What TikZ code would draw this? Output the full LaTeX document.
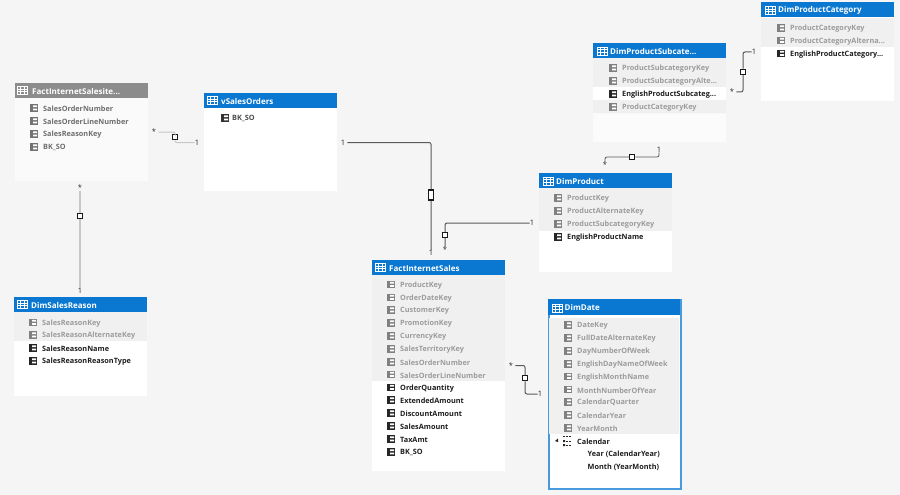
\documentclass[tikz,border=0pt]{standalone}
\usepackage{fontspec}
\setmainfont{Open Sans}
\definecolor{canvas}{HTML}{F5F5F5}
\definecolor{stripe}{HTML}{F0F0F0}
\definecolor{azure}{HTML}{0A78D0}
\definecolor{hidden}{HTML}{9C9C9C}
\definecolor{shown}{HTML}{1E1E1E}
\definecolor{faded}{HTML}{6E6E6E}
\newcommand{\cutoff}{...}
\tikzset{
    tablebody/.style={anchor=north west,fill=white,minimum width=133pt,inner sep=0pt},
    header/.style={anchor=north west,fill=azure,minimum width=133pt,minimum height=15pt,inner sep=0pt},
    title/.style={anchor=west,text=white,font=\bfseries\fontsize{8}{8}\selectfont,inner sep=0pt,xshift=17pt,yshift=-0.7pt},
    keyrow/.style={anchor=west,text=hidden,font=\bfseries\fontsize{7.3}{8}\selectfont,inner sep=0pt,yshift=-0.8pt},
    namerow/.style={keyrow,text=shown},
    fadedrow/.style={keyrow,text=faded},
    mult/.style={font=\fontsize{7.5}{8}\selectfont,text=black!85,inner sep=0pt},
    rel/.style={draw=black!65,line width=1pt,rounded corners=2pt},
    softrel/.style={draw=black!22,line width=1pt,rounded corners=2pt},
    marker/.style={draw=black!90,fill=white,line width=1.5pt,minimum width=5pt,minimum height=5pt,inner sep=0pt},
    tableicon/.pic={
        \draw[white,line width=0.5pt] (-5,-4) rectangle (5,4);
        \draw[white,line width=0.4pt] (-5,-1.5) -- (5,-1.5) (-5,1) -- (5,1) (-1.7,-4) -- (-1.7,4) (1.7,-4) -- (1.7,4);
    },
    colicon/.pic={
        \fill[pic actions] (-4,-3.8) rectangle (4,3.8);
        \fill[white] (-0.8,-2.6) rectangle (3,-0.8) (-0.8,0.6) rectangle (3,2.4);
    },
}
\begin{document}
\begin{tikzpicture}[x=1pt,y=-1pt]
    \useasboundingbox[fill=canvas] (0,0) rectangle (900,495);

    % tables
    \node[tablebody,minimum height=98pt,fill=white!50!canvas] (reason) at (15,83) {};
    \node[header,fill=black!45] (reasonHead) at (15,83) {};
    \node[title] (reasonTitle) at (reasonHead.west) {FactInternetSalesite...};
    \pic at (22,90.5) {tableicon};

    \node[tablebody,minimum height=98pt] (orders) at (204,93) {};
    \node[header] (ordersHead) at (204,93) {};
    \node[title] (ordersTitle) at (ordersHead.west) {vSalesOrders};
    \pic at (212,100.5) {tableicon};

    \node[tablebody,minimum height=99pt] (dimreason) at (14,297) {};
    \fill[stripe] (14,312) rectangle (147,341);
    \node[header] (dimreasonHead) at (14,297) {};
    \node[title] (dimreasonTitle) at (dimreasonHead.west) {DimSalesReason};
    \pic at (22,304.5) {tableicon};

    \node[tablebody,minimum height=211pt] (sales) at (372,260) {};
    \fill[stripe] (372,275) rectangle (505,381);
    \node[header] (salesHead) at (372,260) {};
    \node[title] (salesTitle) at (salesHead.west) {FactInternetSales};
    \pic at (380,267.5) {tableicon};

    \node[tablebody,minimum height=99pt] (product) at (539,173) {};
    \fill[stripe] (539,188) rectangle (672,231);
    \node[header] (productHead) at (539,173) {};
    \node[title] (productTitle) at (productHead.west) {DimProduct};
    \pic at (548,181) {tableicon};

    \node[tablebody,minimum height=99pt,fill=white!60!canvas] (subcat) at (593,43) {};
    \fill[stripe] (593,58) rectangle (726,87) (593,100) rectangle (726,113);
    \fill[white] (593,87) rectangle (726,100);
    \node[header] (subcatHead) at (593,43) {};
    \node[title] (subcatTitle) at (subcatHead.west) {DimProductSubcate...};
    \pic at (602,51) {tableicon};

    \node[tablebody,minimum height=99pt] (category) at (761,2) {};
    \fill[stripe] (761,18) rectangle (894,47);
    \node[header] (categoryHead) at (761,2) {};
    \node[title] (categoryTitle) at (categoryHead.west) {DimProductCategory};
    \pic at (770,10.5) {tableicon};

    \node[tablebody,minimum height=189pt,minimum width=132pt,draw=azure!75!white,line width=2pt] (date) at (547.5,298.5) {};
    \fill[stripe] (549,318) rectangle (679,434);
    \node[header,minimum width=132pt,minimum height=16pt] (dateHead) at (547.5,298.5) {};
    \node[title] (dateTitle) at (dateHead.west) {DimDate};
    \pic at (557,308) {tableicon};

    % columns
    \foreach \t/\y [count=\i] in {SalesOrderNumber/108,SalesOrderLineNumber/121,SalesReasonKey/134,BK\_SO/147} {
        \pic[black!55] at (34,\y) {colicon};
        \node[fadedrow] (reason\i) at (43,\y) {\t};
    }
    \pic[black!80] at (225,118) {colicon};
    \node[fadedrow,text=black!70] (orders1) at (232,118) {BK\_SO};

    \foreach \t/\y [count=\i] in {SalesReasonKey/322.5,SalesReasonAlternateKey/335} {
        \pic[black!50] at (33,\y) {colicon};
        \node[keyrow] (dimreason\i) at (42,\y) {\t};
    }
    \foreach \t/\y [count=\i] in {SalesReasonName/348,SalesReasonReasonType/361} {
        \pic[black!85] at (33,\y) {colicon};
        \node[namerow] (dimname\i) at (42,\y) {\t};
    }

    \foreach \t/\y [count=\i] in {ProductKey/284.5,OrderDateKey/297.5,CustomerKey/310,PromotionKey/323,CurrencyKey/336,SalesTerritoryKey/349,SalesOrderNumber/362,SalesOrderLineNumber/374.5} {
        \pic[black!50] at (391,\y) {colicon};
        \node[keyrow] (sales\i) at (400,\y) {\t};
    }
    \foreach \t/\y [count=\i] in {OrderQuantity/387.5,ExtendedAmount/400,DiscountAmount/413,SalesAmount/426,TaxAmt/439,BK\_SO/452} {
        \pic[black!85] at (391,\y) {colicon};
        \node[namerow] (salesname\i) at (400,\y) {\t};
    }

    \foreach \t/\y [count=\i] in {ProductKey/198,ProductAlternateKey/211,ProductSubcategoryKey/224} {
        \pic[black!50] at (558,\y) {colicon};
        \node[keyrow] (product\i) at (567,\y) {\t};
    }
    \pic[black!85] at (558,237) {colicon};
    \node[namerow] (productname1) at (567,237) {EnglishProductName};

    \foreach \t/\y [count=\i] in {ProductSubcategoryKey/68,ProductSubcategoryAlte\cutoff/81,ProductCategoryKey/107} {
        \pic[black!50] at (613,\y) {colicon};
        \node[keyrow] (subcat\i) at (622,\y) {\t};
    }
    \pic[black!85] at (613,94) {colicon};
    \node[namerow] (subcatname1) at (622,94) {EnglishProductSubcateg...};

    \foreach \t/\y [count=\i] in {ProductCategoryKey/28,ProductCategoryAlterna\cutoff/40.5} {
        \pic[black!50] at (781,\y) {colicon};
        \node[keyrow] (category\i) at (790,\y) {\t};
    }
    \pic[black!85] at (781,53.5) {colicon};
    \node[namerow] (categoryname1) at (790,53.5) {EnglishProductCategory...};

    \foreach \t/\y [count=\i] in {DateKey/325,FullDateAlternateKey/338,DayNumberOfWeek/351,EnglishDayNameOfWeek/364,EnglishMonthName/376.5,MonthNumberOfYear/389.5,CalendarQuarter/402,CalendarYear/415,YearMonth/428} {
        \pic[black!50] at (568,\y) {colicon};
        \node[keyrow] (date\i) at (577,\y) {\t};
    }
    \fill[black!85] (555,441) -- (558,438.5) -- (558,442) -- cycle;
    \draw[black!85,line width=1pt,dash pattern=on 2pt off 1pt] (563,436.5) -- (572,436.5) (566,441) -- (572,441) (566,445) -- (572,445);
    \fill[black!85] (563,440) rectangle (565,442) (563,444) rectangle (565,446);
    \node[namerow] (calendar) at (577,441) {Calendar};
    \node[namerow] (calendar1) at (587.5,453.5) {Year (CalendarYear)};
    \node[namerow] (calendar2) at (587.5,466.5) {Month (YearMonth)};

    % multiplicities and connectors
    \node[mult] (starA) at (154,132) {*};
    \node[mult] (oneA) at (197,142.5) {1};
    \node[marker] (markA) at (175,137) {};
    \draw[softrel] (starA.east) ++(2,0) -| (markA.north);
    \draw[softrel] (markA.south) |- (oneA.west);

    \node[mult] (starB) at (80,188) {*};
    \node[mult] (oneB) at (80,291) {1};
    \draw[softrel,line width=1.4pt] (starB.south) -- (oneB.north);
    \node[marker] (markB) at (80,216) {};

    \node[mult] (oneC) at (343,142.5) {1};
    \node[mult] (oneD) at (431,253) {1};
    \draw[rel] (oneC.east) ++(2,0) -| (oneD.north);
    \node[marker,minimum height=10pt] (markC) at (431,195) {};

    \node[mult] (starE) at (445,250) {*};
    \node[mult] (oneE) at (532,223) {1};
    \draw[rel] (starE.north) |- (oneE.west);
    \node[marker] (markE) at (445,235) {};

    \node[mult] (starF) at (605,165) {*};
    \node[mult] (oneF) at (659,149.5) {1};
    \node[marker] (markF) at (632,157) {};
    \draw[rel,line width=0.8pt] (starF.north) |- (markF.west);
    \draw[rel,line width=0.8pt] (markF.east) -| (oneF.south);

    \node[mult] (starG) at (732,92) {*};
    \node[mult] (oneG) at (754,52) {1};
    \node[marker] (markG) at (743,72) {};
    \draw[rel] (starG.east) ++(2,0) -| (markG.south);
    \draw[rel] (markG.north) |- (oneG.west);

    \node[mult] (starH) at (511,365.5) {*};
    \node[mult] (oneH) at (540,394) {1};
    \node[marker] (markH) at (525,378) {};
    \draw[rel] (starH.east) ++(2,0) -| (markH.north);
    \draw[rel] (markH.south) |- (oneH.west);
\end{tikzpicture}
\end{document}
